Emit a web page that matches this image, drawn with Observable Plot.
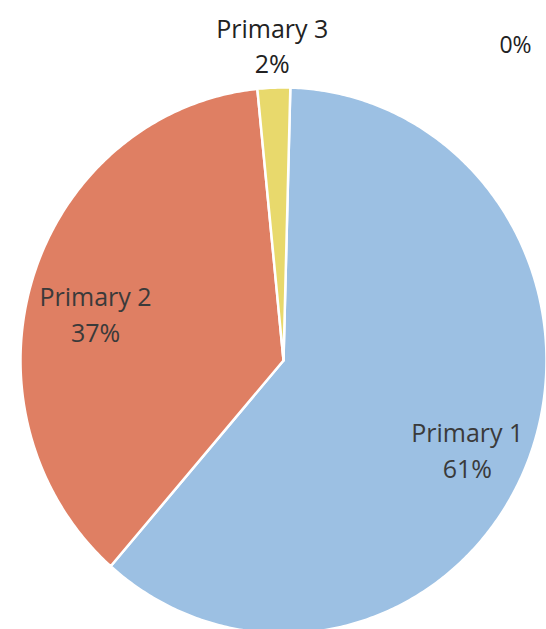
<!DOCTYPE html>
<html><head><meta charset="utf-8">
<script src="https://cdn.jsdelivr.net/npm/d3@7"></script>
<script src="https://cdn.jsdelivr.net/npm/@observablehq/plot@0.6"></script>
<style>body{margin:0;background:#fff}</style></head>
<body><div id="chart"></div>
<script>
const categories = ["Primary 1", "Primary 2", "Primary 3", "Primary 4"];
const values = [61, 37, 2, 0];
const colors = ["#9cc0e3", "#df7f63", "#e8d96c", "#8fa8c8"];

const rot = 0.026; // slight rotation of the photographed chart
const pie = d3.pie().sort(null).startAngle(rot).endAngle(rot + 2 * Math.PI)
  .value(d => d.value)(categories.map((c, i) => ({cat: c, value: values[i]})));
const total = d3.sum(values);
const pts = [];
const labels = [];
for (const a of pie) {
  const span = a.endAngle - a.startAngle;
  const frac = a.data.value / total;
  const mid = (a.startAngle + a.endAngle) / 2;
  if (span > 0) {
    const n = Math.max(2, Math.ceil(span / 0.01));
    pts.push({cat: a.data.cat, x: 0, y: 0});
    for (let k = 0; k <= n; k++) {
      const t = a.startAngle + span * k / n;
      pts.push({cat: a.data.cat, x: Math.sin(t), y: Math.cos(t)});
    }
    pts.push({cat: a.data.cat, x: 0, y: 0});
    const inside = frac >= 0.1;
    const r = inside ? 0.75 : 1.16;
    labels.push({cat: a.data.cat, inside, x: r * Math.sin(mid), y: r * Math.cos(mid),
      text: `${a.data.cat}\n${Math.round(frac * 100)}%`});
  }
}
const zeroLabels = pie.filter(a => a.data.value === 0).map(a => ({text: `${a.data.value}%`}));

const chart = Plot.plot({
  width: 546, height: 629,
  marginLeft: 0, marginRight: 0, marginTop: 0, marginBottom: 0,
  x: {domain: [-1, 1], range: [20, 546], axis: null},
  y: {domain: [-1, 1], range: [633, 87], axis: null},
  color: {domain: categories, range: colors},
  style: {fontFamily: "'Open Sans', sans-serif", background: "#fff", overflow: "hidden"},
  marks: [
    Plot.line(pts, {x: "x", y: "y", z: "cat", fill: "cat", stroke: "#fff", strokeWidth: 2.5, curve: "linear"}),
    Plot.text(labels.filter(d => d.inside), {x: "x", y: "y", text: "text", fontSize: 25, lineHeight: 1.44, dy: 14, fill: "#3a3a3a"}),
    Plot.text(labels.filter(d => !d.inside), {x: "x", y: "y", text: "text", fontSize: 25, lineHeight: 1.42, dy: 0, fill: "#222"}),
    Plot.text(zeroLabels, {text: "text", frameAnchor: "top-right", textAnchor: "middle", dx: -31, dy: 36, fontSize: 23, fill: "#222"})
  ]
});
document.getElementById("chart").appendChild(chart);
</script>
</body></html>
